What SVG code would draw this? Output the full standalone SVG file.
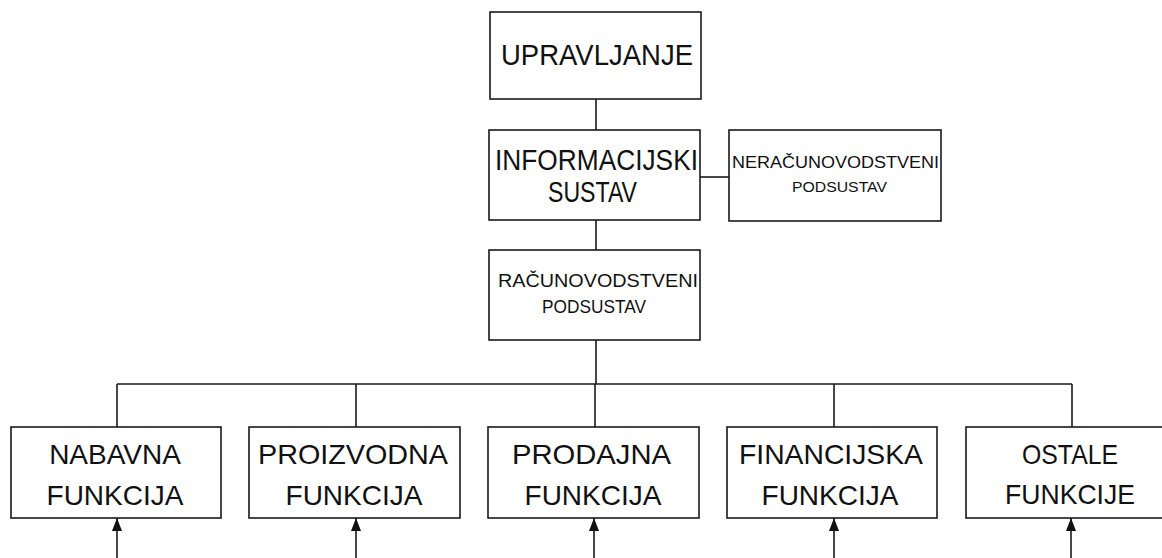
<svg xmlns="http://www.w3.org/2000/svg" width="1162" height="558" viewBox="0 0 1162 558">
  <style>
    .box { fill: #ffffff; stroke: #1a1a1a; stroke-width: 1.6; }
    .lbl { font-family: "Liberation Sans", Arial, sans-serif; fill: #111111; text-anchor: middle; }
    .big { font-size: 28px; }
    .mid { font-size: 29px; }
    .sm { font-size: 18px; }
    .xs { font-size: 15px; }
    .conn line { stroke: #1a1a1a; stroke-width: 1.6; fill: none; }
  </style>
  <defs>
    <marker id="arrow" markerUnits="userSpaceOnUse" markerWidth="14" markerHeight="12" refX="13" refY="5" orient="auto">
      <path d="M0,0 L13,5 L0,10 z" fill="#111111"/>
    </marker>
  </defs>
  <rect width="1162" height="558" fill="#ffffff"/>

  <g id="connectors" class="conn">
    <line x1="596" y1="99" x2="596" y2="130"/>
    <line x1="700" y1="177" x2="729" y2="177"/>
    <line x1="596" y1="220" x2="596" y2="250"/>
    <line x1="596" y1="340" x2="596" y2="384"/>
    <line x1="117" y1="384" x2="1072" y2="384"/>
    <line x1="117" y1="384" x2="117" y2="427"/>
    <line x1="356" y1="384" x2="356" y2="427"/>
    <line x1="595" y1="384" x2="595" y2="427"/>
    <line x1="834" y1="384" x2="834" y2="427"/>
    <line x1="1072" y1="384" x2="1072" y2="427"/>
    <line x1="117" y1="558" x2="117" y2="518" marker-end="url(#arrow)"/>
    <line x1="356" y1="558" x2="356" y2="518" marker-end="url(#arrow)"/>
    <line x1="594" y1="558" x2="594" y2="518" marker-end="url(#arrow)"/>
    <line x1="834" y1="558" x2="834" y2="518" marker-end="url(#arrow)"/>
    <line x1="1071" y1="558" x2="1071" y2="518" marker-end="url(#arrow)"/>
  </g>

  <g id="upravljanje">
    <rect class="box" x="490" y="12" width="211" height="87"/>
    <text class="lbl" x="597" y="65" font-size="30" textLength="192" lengthAdjust="spacingAndGlyphs">UPRAVLJANJE</text>
  </g>

  <g id="informacijski-sustav">
    <rect class="box" x="489" y="130" width="211" height="90"/>
    <text class="lbl mid" x="596.5" y="170" textLength="203" lengthAdjust="spacingAndGlyphs">INFORMACIJSKI</text>
    <text class="lbl mid" x="592.5" y="202" textLength="89" lengthAdjust="spacingAndGlyphs">SUSTAV</text>
  </g>

  <g id="neracunovodstveni-podsustav">
    <rect class="box" x="729" y="130" width="212" height="91"/>
    <text class="lbl" x="835.5" y="168" font-size="16" textLength="207" lengthAdjust="spacingAndGlyphs">NERAČUNOVODSTVENI</text>
    <text class="lbl xs" x="839.5" y="192" textLength="95" lengthAdjust="spacingAndGlyphs">PODSUSTAV</text>
  </g>

  <g id="racunovodstveni-podsustav">
    <rect class="box" x="489" y="250" width="211" height="90"/>
    <text class="lbl sm" x="598" y="287" textLength="200" lengthAdjust="spacingAndGlyphs">RAČUNOVODSTVENI</text>
    <text class="lbl sm" x="594" y="313" textLength="104" lengthAdjust="spacingAndGlyphs">PODSUSTAV</text>
  </g>

  <g id="nabavna-funkcija">
    <rect class="box" x="11" y="427" width="210" height="91"/>
    <text class="lbl big" x="115" y="464">NABAVNA</text>
    <text class="lbl big" x="115" y="505">FUNKCIJA</text>
  </g>

  <g id="proizvodna-funkcija">
    <rect class="box" x="249" y="427" width="211" height="91"/>
    <text class="lbl big" x="353" y="464" textLength="190" lengthAdjust="spacingAndGlyphs">PROIZVODNA</text>
    <text class="lbl big" x="354" y="505">FUNKCIJA</text>
  </g>

  <g id="prodajna-funkcija">
    <rect class="box" x="488" y="427" width="211" height="91"/>
    <text class="lbl big" x="591.5" y="464" textLength="159" lengthAdjust="spacingAndGlyphs">PRODAJNA</text>
    <text class="lbl big" x="593" y="505">FUNKCIJA</text>
  </g>

  <g id="financijska-funkcija">
    <rect class="box" x="727" y="427" width="210" height="91"/>
    <text class="lbl big" x="831" y="464" textLength="184" lengthAdjust="spacingAndGlyphs">FINANCIJSKA</text>
    <text class="lbl big" x="830" y="505">FUNKCIJA</text>
  </g>

  <g id="ostale-funkcije">
    <rect class="box" x="966" y="427" width="210" height="91"/>
    <text class="lbl big" x="1070" y="464" textLength="96" lengthAdjust="spacingAndGlyphs">OSTALE</text>
    <text class="lbl big" x="1070" y="504" textLength="130" lengthAdjust="spacingAndGlyphs">FUNKCIJE</text>
  </g>
</svg>
